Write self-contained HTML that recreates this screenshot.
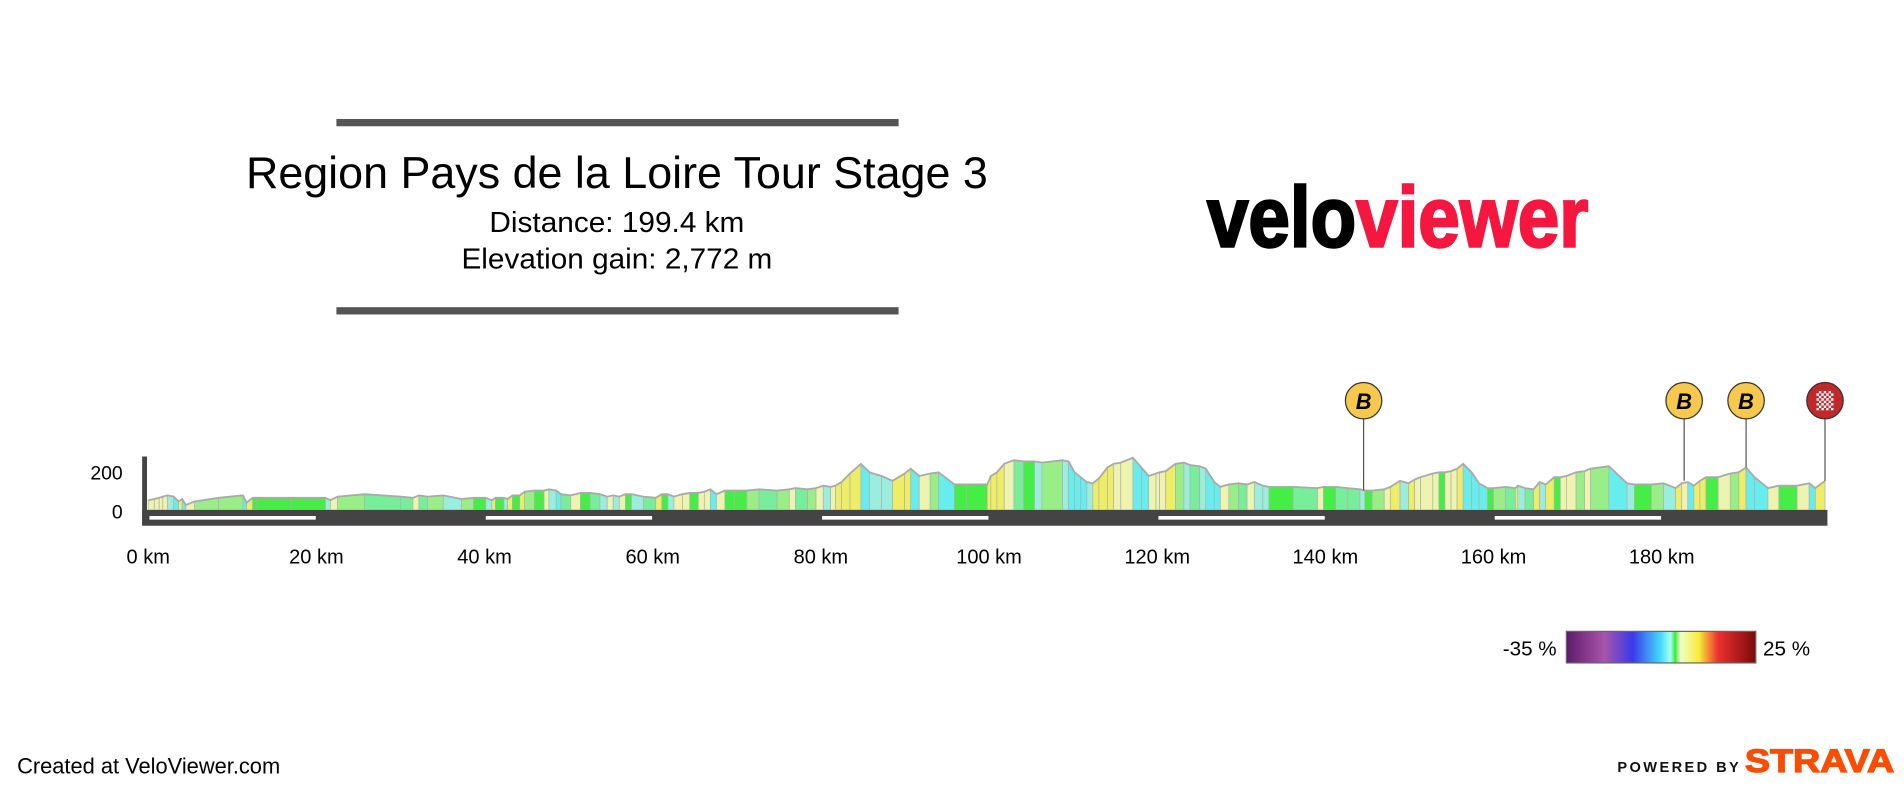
<!DOCTYPE html>
<html><head><meta charset="utf-8"><style>html,body{margin:0;padding:0;background:#fff}svg{display:block}</style></head>
<body>
<svg id="s" width="1904" height="788" viewBox="0 0 1568 649" xmlns="http://www.w3.org/2000/svg" font-family="Liberation Sans, Arial, sans-serif">
<defs>
<linearGradient id="lg" x1="0" x2="1" y1="0" y2="0">
<stop offset="0" stop-color="#5e1a6a"/><stop offset="0.2" stop-color="#a855aa"/><stop offset="0.35" stop-color="#3a3ae8"/>
<stop offset="0.5" stop-color="#44ddff"/><stop offset="0.55" stop-color="#aaffee"/><stop offset="0.575" stop-color="#33ee33"/>
<stop offset="0.6" stop-color="#f0ffcc"/><stop offset="0.7" stop-color="#f8ec3a"/><stop offset="0.8" stop-color="#ee3030"/>
<stop offset="1" stop-color="#7a0a0a"/></linearGradient>
<pattern id="chk" width="4" height="4" patternUnits="userSpaceOnUse"><rect width="4" height="4" fill="#c0282a"/><rect width="2" height="2" fill="#fff"/><rect x="2" y="2" width="2" height="2" fill="#fff"/></pattern>
</defs>
<rect x="277" y="98" width="463" height="6" fill="#555"/>
<rect x="277" y="253" width="463" height="6" fill="#555"/>
<text x="508" y="155" font-size="37" text-anchor="middle" fill="#000" textLength="611" lengthAdjust="spacingAndGlyphs">Region Pays de la Loire Tour Stage 3</text>
<text x="508" y="191" font-size="23.5" text-anchor="middle" fill="#000" textLength="210" lengthAdjust="spacingAndGlyphs">Distance: 199.4 km</text>
<text x="508" y="221" font-size="23.5" text-anchor="middle" fill="#000" textLength="256" lengthAdjust="spacingAndGlyphs">Elevation gain: 2,772 m</text>
<text x="994" y="203" font-size="70" font-weight="bold" stroke-width="2" textLength="314" lengthAdjust="spacingAndGlyphs"><tspan fill="#000" stroke="#000">velo</tspan><tspan fill="#f5173f" stroke="#f5173f">viewer</tspan></text>
<g id="prof"></g>
<rect x="117" y="376" width="4" height="56" fill="#444"/>
<rect x="117" y="420" width="1388" height="13" fill="#444"/>
<g fill="#fff"><rect x="123" y="425" width="137" height="3"/><rect x="400" y="425" width="137" height="3"/><rect x="677" y="425" width="137" height="3"/><rect x="954" y="425" width="137" height="3"/><rect x="1231" y="425" width="137" height="3"/></g>
<g font-size="16" text-anchor="end"><text x="101" y="395">200</text><text x="101" y="427">0</text></g>
<g font-size="16.5" text-anchor="middle" id="km"></g>
<g stroke="#555" stroke-width="1"><line x1="1123" y1="345" x2="1123" y2="404"/><line x1="1387" y1="345" x2="1387" y2="396"/><line x1="1438" y1="345" x2="1438" y2="385"/><line x1="1503" y1="345" x2="1503" y2="396"/></g>
<g font-size="18" font-weight="bold" font-style="italic" text-anchor="middle">
<circle cx="1123" cy="330" r="15" fill="#f6c94e" stroke="#333"/><text x="1123" y="337">B</text>
<circle cx="1387" cy="330" r="15" fill="#f6c94e" stroke="#333"/><text x="1387" y="337">B</text>
<circle cx="1438" cy="330" r="15" fill="#f6c94e" stroke="#333"/><text x="1438" y="337">B</text>
</g>
<circle cx="1503" cy="330" r="15" fill="#c0282a" stroke="#333"/>
<rect x="1496" y="322" width="14" height="16" fill="url(#chk)"/>
<text x="1282" y="540" font-size="17" text-anchor="end">-35 %</text>
<rect x="1290" y="520" width="156" height="26" fill="url(#lg)" stroke="#666"/>
<text x="1452" y="540" font-size="17">25 %</text>
<text x="14" y="637" font-size="18">Created at VeloViewer.com</text>
<text x="1332" y="636" font-size="12" font-weight="bold" letter-spacing="2" fill="#111">POWERED BY</text>
<text x="1437" y="636" font-size="27" font-weight="bold" fill="#fc4c02" stroke="#fc4c02" stroke-width="1" textLength="123" lengthAdjust="spacingAndGlyphs">STRAVA</text>
</svg>
<script>
var p=[122,412,127,411,131,410,134,409,138,408,143,409,147,413,150,411,153,416,160,413,180,410,200,408,203,414,208,410,212,410,240,410,268,410,272,412,278,409,300,407,330,409,340,410,345,408,352,409,365,408,380,411,390,410,400,410,405,412,408,410,415,410,418,411,422,408,428,408,432,405,440,404,448,404,452,403,458,404,462,407,470,408,478,406,486,406,494,407,500,409,505,408,510,409,515,407,520,407,530,409,540,410,545,407,550,407,555,409,562,407,568,406,575,406,580,405,585,403,590,407,597,404,605,404,615,404,625,403,640,404,650,403,655,402,665,403,672,402,678,400,684,401,688,400,693,397,700,390,709,382,716,389,726,392,735,396,745,390,750,386,757,392,766,390,773,389,786,399,796,399,813,399,816,392,821,389,827,382,835,379,843,380,852,380,858,381,875,379,880,380,885,389,890,393,895,397,900,398,905,394,912,385,917,382,923,381,933,377,940,385,946,392,952,390,955,389,960,388,968,382,975,381,980,383,988,384,993,386,1000,397,1005,401,1012,399,1020,398,1027,399,1033,397,1040,400,1045,401,1065,401,1085,402,1090,401,1100,401,1110,402,1120,403,1124,404,1130,404,1140,403,1145,401,1153,396,1160,398,1165,395,1170,393,1180,390,1185,389,1190,389,1195,388,1200,386,1205,382,1212,389,1218,398,1225,402,1230,402,1240,401,1248,402,1250,400,1256,402,1263,403,1268,397,1273,399,1280,393,1285,393,1290,392,1298,389,1305,388,1310,386,1325,384,1340,398,1346,399,1360,399,1370,398,1380,402,1385,398,1390,397,1395,400,1400,396,1405,393,1415,393,1425,390,1432,389,1438,385,1445,393,1456,402,1465,400,1480,400,1490,398,1495,402,1503,396];
var g=document.getElementById('prof'),B=420,out="";
function col(s){if(Math.abs(s)<0.04)return"#44ee44";if(s>0.5)return"#eeee66";if(s>0.15)return"#eef3b0";if(s>0)return"#99ee88";if(s<-0.5)return"#66eeee";if(s<-0.15)return"#99eedd";return"#77ee99";}
for(var i=0;i<p.length-2;i+=2){var x0=p[i],y0=p[i+1],x1=p[i+2],y1=p[i+3];
out+='<polygon points="'+x0+','+B+' '+x0+','+y0+' '+x1+','+y1+' '+x1+','+B+'" fill="'+col((y0-y1)/(x1-x0))+'" stroke="#b0b0b0" stroke-width="0.6"/>';}
var pts="";for(var i=0;i<p.length;i+=2)pts+=p[i]+','+p[i+1]+' ';
out+='<polyline points="'+pts+'" fill="none" stroke="#aaa" stroke-width="1.5"/>';
g.innerHTML=out;
var k="";for(var j=0;j<10;j++){k+='<text x="'+(122+j*138.5)+'" y="464">'+(j*20)+' km</text>';}
document.getElementById('km').innerHTML=k;
</script>
</body></html>
